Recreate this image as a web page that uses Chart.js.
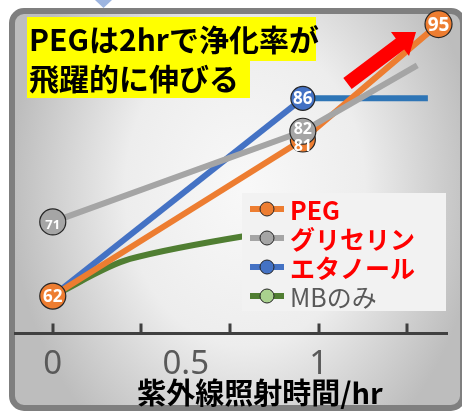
<!DOCTYPE html>
<html>
<head>
<meta charset="utf-8">
<script src="https://cdn.jsdelivr.net/npm/chart.js@4.4.1/dist/chart.umd.min.js"></script>
<style>
  html, body { margin: 0; padding: 0; background: #fff; }
  canvas { display: block; }
</style>
</head>
<body>
<canvas id="chart" width="462" height="412"></canvas>
<script>
// 紫外線照射時間 (hr) ごとの浄化率
const titleLines = ["PEGは2hrで浄化率が", "飛躍的に伸びる"];
const axisTitle = "紫外線照射時間/hr";
const seriesNames = ["PEG", "グリセリン", "エタノール", "MBのみ"];

const pegHours = [0, 0.94, 1.45];
const pegRates = [62, 81, 95];
const glyHours = [0, 0.94, 1.37];
const glyRates = [71, 82, 90];
const ethHours = [0, 0.94, 1.41];
const ethRates = [62, 86, 86];
const mbHours = [0, 0.29, 0.94];
const mbRates = [62, 66.5, 70.5];

const xTickLabels = [0, 0.5, 1];
const xTickMarks = [0, 1 / 3, 2 / 3, 1, 4 / 3];

const CJK = "'Noto Sans CJK JP', 'Noto Sans', sans-serif";
const LATIN = "'Noto Sans', 'Noto Sans CJK JP', sans-serif";

const points = (xs, ys) => xs.map((x, i) => ({ x: x, y: ys[i] }));

// panel background, border and the little triangle above it
const panel = {
    id: 'panel',
    beforeDraw(chart) {
        const ctx = chart.ctx;
        ctx.save();
        ctx.fillStyle = '#fff';
        ctx.fillRect(0, 0, chart.width, chart.height);

        ctx.save();
        ctx.beginPath();
        ctx.roundRect(12, 11, 451, 397, 12);
        ctx.clip();
        ctx.translate(245, 190);
        ctx.scale(1, 1.3);
        const g = ctx.createRadialGradient(0, 0, 5, 0, 0, 235);
        g.addColorStop(0, '#f8f8f8');
        g.addColorStop(0.5, '#ededed');
        g.addColorStop(1, '#bdbdbd');
        ctx.fillStyle = g;
        ctx.fillRect(-300, -200, 600, 400);
        ctx.restore();

        ctx.beginPath();
        ctx.roundRect(12, 11, 451, 397, 12);
        ctx.lineWidth = 6;
        ctx.strokeStyle = '#7f7f7f';
        ctx.stroke();

        ctx.beginPath();
        ctx.moveTo(95, 0);
        ctx.lineTo(112, 0);
        ctx.lineTo(103.5, 8);
        ctx.closePath();
        ctx.fillStyle = '#9db5e0';
        ctx.fill();
        ctx.restore();
    }
};

// legend box that sits over the plot
const boxLegend = {
    id: 'boxLegend',
    afterDatasetsDraw(chart, args, opts) {
        const ctx = chart.ctx;
        ctx.save();
        ctx.fillStyle = '#f2f2f2';
        ctx.fillRect(opts.left, opts.top, opts.width, opts.height);
        chart.data.datasets.forEach((ds, i) => {
            const y = opts.firstRow + i * opts.rowHeight;
            ctx.beginPath();
            ctx.moveTo(opts.lineFrom, y);
            ctx.lineTo(opts.lineTo, y);
            ctx.lineWidth = 6;
            ctx.strokeStyle = ds.borderColor;
            ctx.stroke();
            ctx.beginPath();
            ctx.arc((opts.lineFrom + opts.lineTo) / 2, y, 7, 0, Math.PI * 2);
            ctx.fillStyle = ds.pointBackgroundColor;
            ctx.fill();
            ctx.lineWidth = 1;
            ctx.strokeStyle = '#262626';
            ctx.stroke();
            ctx.fillStyle = opts.textColors[i];
            ctx.font = (opts.bold[i] ? 'bold ' : '') + opts.fontSize + 'px ' + CJK;
            ctx.textBaseline = 'middle';
            ctx.textAlign = 'left';
            ctx.fillText(ds.label, opts.textX, y + 1);
        });
        ctx.restore();
    }
};

// white value labels inside the markers
const dataLabels = {
    id: 'dataLabels',
    afterDatasetsDraw(chart) {
        const ctx = chart.ctx;
        ctx.save();
        ctx.fillStyle = '#fff';
        ctx.textAlign = 'center';
        ctx.textBaseline = 'middle';
        chart.data.datasets.forEach((ds, di) => {
            const meta = chart.getDatasetMeta(di);
            meta.data.forEach((el, i) => {
                const r = Array.isArray(ds.pointRadius) ? ds.pointRadius[i] : ds.pointRadius;
                if (!r) return;
                const size = ds.labelSize ? ds.labelSize[i] : 16;
                const dy = ds.labelShift ? ds.labelShift[i] : 0;
                ctx.font = 'bold ' + size + 'px ' + LATIN;
                ctx.fillText(String(ds.data[i].y), el.x, el.y + dy + 1);
            });
        });
        ctx.restore();
    }
};

const decorations = {
    id: 'decorations',
    afterDraw(chart) {
        const ctx = chart.ctx;
        const xs = chart.scales.x;
        const bottom = chart.chartArea.bottom;
        ctx.save();

        // tick marks point up into the plot
        ctx.strokeStyle = '#404040';
        ctx.lineWidth = 3;
        ctx.beginPath();
        xTickMarks.forEach(v => {
            const px = Math.round(xs.getPixelForValue(v));
            ctx.moveTo(px, bottom);
            ctx.lineTo(px, bottom - 10);
        });
        ctx.stroke();

        // red arrow
        const tail = [347.5, 83.5], tip = [416, 32];
        const len = Math.hypot(tip[0] - tail[0], tip[1] - tail[1]);
        const u = [(tip[0] - tail[0]) / len, (tip[1] - tail[1]) / len];
        const n = [-u[1], u[0]];
        const base = [tip[0] - u[0] * 20, tip[1] - u[1] * 20];
        const p = (c, k) => [c[0] + n[0] * k, c[1] + n[1] * k];
        const pts = [p(tail, 7), p(base, 7), p(base, 15), tip, p(base, -15), p(base, -7), p(tail, -7)];
        ctx.beginPath();
        pts.forEach((q, i) => i ? ctx.lineTo(q[0], q[1]) : ctx.moveTo(q[0], q[1]));
        ctx.closePath();
        ctx.fillStyle = '#ff0000';
        ctx.fill();

        // yellow title
        ctx.fillStyle = '#ffff00';
        ctx.fillRect(27, 17, 289, 44);
        ctx.fillRect(27, 61, 223, 37);
        ctx.fillStyle = '#000';
        ctx.font = 'bold 30px ' + CJK;
        ctx.textBaseline = 'middle';
        ctx.textAlign = 'left';
        ctx.fillText(titleLines[0], 29, 40);
        ctx.fillText(titleLines[1], 29, 79);

        // axis title
        ctx.font = 'bold 29px ' + CJK;
        ctx.textAlign = 'center';
        ctx.fillText(axisTitle, 260, 393);
        ctx.restore();
    }
};

const common = {
    borderWidth: 6,
    borderCapStyle: 'butt',
    pointBorderColor: '#262626',
    pointBorderWidth: 1.2,
    clip: false
};

new Chart(document.getElementById('chart'), {
    type: 'line',
    data: {
        datasets: [
            Object.assign({}, common, {
                label: seriesNames[0],
                data: points(pegHours, pegRates),
                borderColor: '#ED7D31',
                pointBackgroundColor: '#ED7D31',
                pointRadius: [13, 12.5, 13.5],
                labelSize: [17, 16, 19],
                labelShift: [0, 6, 0],
                order: 1
            }),
            Object.assign({}, common, {
                label: seriesNames[1],
                data: points(glyHours, glyRates),
                borderColor: '#A5A5A5',
                pointBackgroundColor: '#A5A5A5',
                pointRadius: [13, 13, 0],
                labelSize: [13, 16, 16],
                labelShift: [2, -3, 0],
                order: 0
            }),
            Object.assign({}, common, {
                label: seriesNames[2],
                data: points(ethHours, ethRates),
                borderColor: '#4472C4',
                segment: { borderColor: c => c.p0DataIndex === 1 ? '#2E75B6' : undefined },
                pointBackgroundColor: '#4472C4',
                pointRadius: [0, 12, 0],
                labelSize: [16, 17, 16],
                order: 2
            }),
            Object.assign({}, common, {
                label: seriesNames[3],
                data: points(mbHours, mbRates),
                borderColor: '#507E32',
                pointBackgroundColor: '#A9D18E',
                pointRadius: 0,
                tension: 0.3,
                order: 3
            })
        ]
    },
    options: {
        responsive: false,
        animation: false,
        layout: { padding: { left: 15, right: 13, top: 20, bottom: 24 } },
        scales: {
            x: {
                type: 'linear',
                min: -0.142,
                max: 1.483,
                afterBuildTicks: scale => {
                    scale.ticks = xTickLabels.map(v => ({ value: v }));
                },
                grid: { display: false },
                border: { display: true, color: '#404040', width: 3 },
                ticks: {
                    color: '#595959',
                    padding: 3.5,
                    maxRotation: 0,
                    autoSkip: false,
                    font: { size: 33, family: LATIN },
                    callback: v => String(v)
                }
            },
            y: { display: false, min: 57.47, max: 95.5 }
        },
        plugins: {
            legend: { display: false },
            tooltip: { enabled: false },
            boxLegend: {
                left: 242, top: 193, width: 204, height: 118,
                firstRow: 209, rowHeight: 29,
                lineFrom: 250, lineTo: 284, textX: 290, fontSize: 25,
                textColors: ['#ff0000', '#ff0000', '#ff0000', '#595959'],
                bold: [true, true, true, false]
            }
        }
    },
    plugins: [panel, boxLegend, dataLabels, decorations]
});
</script>
</body>
</html>
